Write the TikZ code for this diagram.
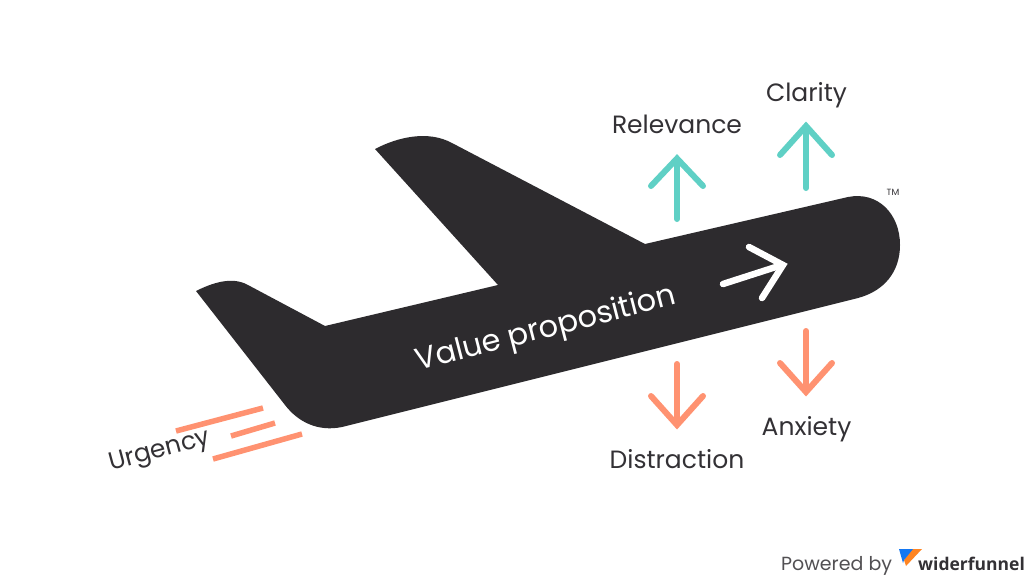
\documentclass[tikz,border=0pt]{standalone}
\usepackage{fontspec}
\setmainfont{Poppins}
\newfontfamily\logofont{Open Sans}
\definecolor{planecol}{HTML}{2D2B2E}
\definecolor{teal}{HTML}{5FD0C5}
\definecolor{coral}{HTML}{FF9271}
\definecolor{txt}{HTML}{333135}
\tikzset{
  up/.style={line width=6pt,line cap=round,line join=miter,draw=teal},
  down/.style={line width=6pt,line cap=round,line join=miter,draw=coral},
  streak/.style={line width=5.5pt,draw=coral},
  lab/.style={font=\fontsize{25}{28}\selectfont,text=txt,inner sep=0pt},
}
\begin{document}
\begin{tikzpicture}[x=1pt,y=-1pt]
\useasboundingbox (0,0) rectangle (1024,576);
\fill[white] (0,0) rectangle (1024,576);
% plane
\fill[planecol] (645,244) -- (848,197)
  .. controls (878,191) and (900,214) .. (900,245)
  .. controls (900,272) and (884,291) .. (858,298)
  -- (342,427)
  .. controls (318,432) and (298,422) .. (285,405)
  -- (196,291)
  .. controls (212,283) and (232,276) .. (248,285)
  -- (325,326) -- (498,285) -- (375,149)
  .. controls (398,137) and (428,130) .. (452,143)
  -- cycle;
% direction arrow
\draw[white,line width=6.5pt,line cap=round] (723,284) -- (782,265);
\draw[white,line width=6.5pt,line cap=round,line join=miter] (749,247) -- (783,265) -- (762,298);
\node[lab,font=\fontsize{30.5}{33}\selectfont,text=white,rotate=14.5] (vp) at (546,330) {Value proposition};
% teal arrows
\draw[up] (677,219) -- (677,160);
\draw[up] (651,186) -- (677,158.5) -- (703,186);
\draw[up] (806,188) -- (806,127);
\draw[up] (780,155) -- (806,126) -- (832,155);
% coral arrows
\draw[down] (677,364) -- (677,424);
\draw[down] (651,396) -- (677,425) -- (703,396);
\draw[down] (806,331) -- (806,391);
\draw[down] (780,363) -- (806,392) -- (832,363);
% labels
\node[lab] (rel) at (677,124) {Relevance};
\node[lab] (cla) at (806.5,95) {Clarity};
\node[lab] (dis) at (677,459) {Distraction};
\node[lab] (anx) at (806.5,429) {Anxiety};
\node[font=\fontsize{9}{10}\selectfont,text=txt,inner sep=0pt] (tm) at (893,192) {TM};
% urgency
\draw[streak] (176,431) -- (263,408);
\draw[streak] (231,436) -- (275,423);
\draw[streak] (213,459) -- (302,434);
\node[lab,rotate=15] (urg) at (160,452) {Urgency};
% footer
\node[font=\fontsize{19}{22}\selectfont,text=txt!85,inner sep=0pt,anchor=base west] (pow) at (781,570) {Powered by};
\fill[orange!70!coral] (911,549) -- (922,549) -- (906,566) -- (904,560) -- cycle;
\fill[teal!30!blue!70!cyan] (899,549) -- (913,549) -- (904,560) -- (903,563) -- cycle;
\node[font=\logofont\bfseries\fontsize{17.5}{20}\selectfont,text=txt,inner sep=0pt,anchor=base west] (wf) at (918,570) {widerfunnel};
\end{tikzpicture}
\end{document}
